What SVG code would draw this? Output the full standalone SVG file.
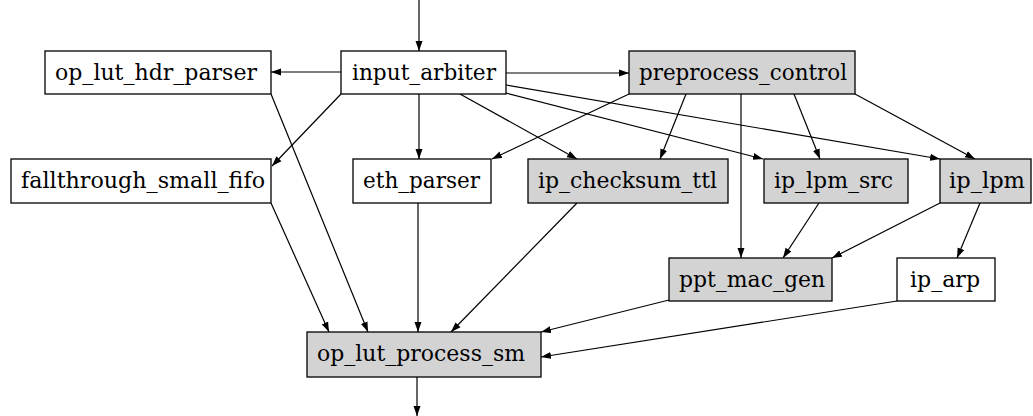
<svg xmlns="http://www.w3.org/2000/svg" width="1033" height="416" viewBox="0 0 1033 416">
<style>
.n rect{fill:#ffffff;stroke:#000;stroke-width:1.3}
.g rect{fill:#d3d3d3}
.n text{font-family:"DejaVu Serif","Liberation Serif",serif;font-size:21.5px;fill:#000;text-anchor:middle}
#edges line{stroke:#000;stroke-width:1.2;marker-end:url(#ah)}
</style>
<defs>
<marker id="ah" markerUnits="userSpaceOnUse" markerWidth="10" markerHeight="8" refX="10" refY="3.5" orient="auto" viewBox="0 0 10 7">
<path d="M0,0 L10,3.5 L0,7 z" fill="#000"/>
</marker>
</defs>
<rect width="1033" height="416" fill="#fff"/>
<g id="edges">
<line x1="419" y1="0" x2="419" y2="51"/>
<line x1="341" y1="72" x2="271" y2="72"/>
<line x1="506" y1="73" x2="629" y2="73"/>
<line x1="341" y1="94" x2="272" y2="166"/>
<line x1="419" y1="94" x2="419" y2="159"/>
<line x1="460" y1="94" x2="577" y2="159"/>
<line x1="506" y1="93" x2="763" y2="159"/>
<line x1="506" y1="85" x2="940" y2="159"/>
<line x1="629" y1="94" x2="492" y2="159"/>
<line x1="686" y1="94" x2="660" y2="159"/>
<line x1="741" y1="94" x2="741" y2="258"/>
<line x1="794" y1="94" x2="820" y2="159"/>
<line x1="855" y1="94" x2="975" y2="159"/>
<line x1="271" y1="94" x2="368" y2="332"/>
<line x1="271" y1="203" x2="329" y2="332"/>
<line x1="418" y1="203" x2="418" y2="332"/>
<line x1="577" y1="203" x2="451" y2="332"/>
<line x1="819" y1="203" x2="783" y2="258"/>
<line x1="940" y1="203" x2="832" y2="258"/>
<line x1="980" y1="203" x2="957" y2="258"/>
<line x1="669" y1="300" x2="541" y2="332"/>
<line x1="897" y1="301" x2="541" y2="357"/>
<line x1="417" y1="377" x2="417" y2="416"/>
</g>
<g id="op_lut_hdr_parser" class="n"><rect x="45" y="51" width="226" height="43"/><text x="156" y="80" textLength="202" lengthAdjust="spacingAndGlyphs">op_lut_hdr_parser</text></g>
<g id="input_arbiter" class="n"><rect x="341" y="51" width="165" height="43"/><text x="424" y="80" textLength="144" lengthAdjust="spacingAndGlyphs">input_arbiter</text></g>
<g id="preprocess_control" class="n g"><rect x="629" y="51" width="226" height="43"/><text x="743" y="80" textLength="208" lengthAdjust="spacingAndGlyphs">preprocess_control</text></g>
<g id="fallthrough_small_fifo" class="n"><rect x="11" y="159" width="260" height="44"/><text x="143" y="188" textLength="244" lengthAdjust="spacingAndGlyphs">fallthrough_small_fifo</text></g>
<g id="eth_parser" class="n"><rect x="353" y="159" width="138" height="44"/><text x="421.5" y="188" textLength="117" lengthAdjust="spacingAndGlyphs">eth_parser</text></g>
<g id="ip_checksum_ttl" class="n g"><rect x="528" y="159" width="200" height="44"/><text x="627.5" y="188" textLength="179" lengthAdjust="spacingAndGlyphs">ip_checksum_ttl</text></g>
<g id="ip_lpm_src" class="n g"><rect x="764" y="159" width="144" height="44"/><text x="833.5" y="188" textLength="119" lengthAdjust="spacingAndGlyphs">ip_lpm_src</text></g>
<g id="ip_lpm" class="n g"><rect x="940" y="159" width="91" height="44"/><text x="987" y="188" textLength="76" lengthAdjust="spacingAndGlyphs">ip_lpm</text></g>
<g id="ppt_mac_gen" class="n g"><rect x="669" y="258" width="163" height="43"/><text x="752" y="287" textLength="146" lengthAdjust="spacingAndGlyphs">ppt_mac_gen</text></g>
<g id="ip_arp" class="n"><rect x="897" y="258" width="98" height="43"/><text x="945" y="287" textLength="70" lengthAdjust="spacingAndGlyphs">ip_arp</text></g>
<g id="op_lut_process_sm" class="n g"><rect x="307" y="332" width="234" height="45"/><text x="421" y="361" textLength="208" lengthAdjust="spacingAndGlyphs">op_lut_process_sm</text></g>
</svg>
